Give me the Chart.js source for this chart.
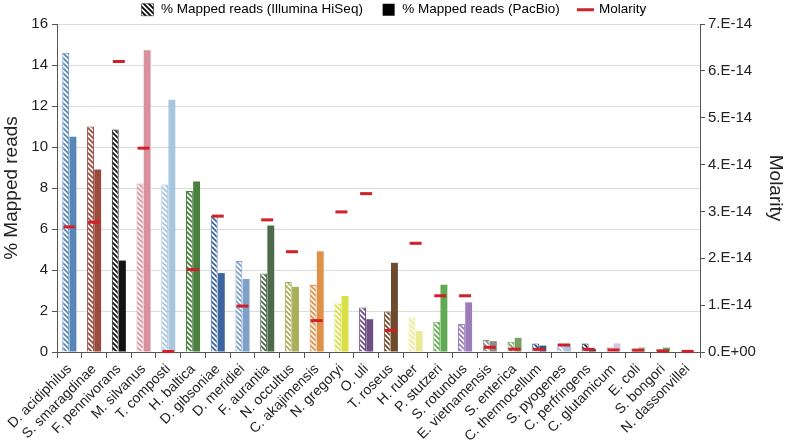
<!DOCTYPE html>
<html>
<head>
<meta charset="utf-8">
<script src="https://cdn.jsdelivr.net/npm/chart.js@4.4.1/dist/chart.umd.min.js"></script>
<style>
  html, body { margin: 0; padding: 0; background: #fff; }
  #wrap { width: 787px; height: 440px; }
</style>
</head>
<body>
<div id="wrap"><canvas id="readsChart" width="787" height="440"></canvas></div>
<script>
// species (x categories)
const species = ['D. acidiphilus', 'S. smaragdinae', 'F. pennivorans', 'M. silvanus', 'T. composti',
    'H. baltica', 'D. gibsoniae', 'D. meridiei', 'F. aurantia', 'N. occultus', 'C. akajimensis',
    'N. gregoryi', 'O. uli', 'T. roseus', 'H. ruber', 'P. stutzeri', 'S. rotundus', 'E. vietnamensis',
    'S. enterica', 'C. thermocellum', 'S. pyogenes', 'C. perfringens', 'C. glutamicum', 'E. coli',
    'S. bongori', 'N. dassonvillei'];

// % mapped reads, Illumina HiSeq (hatched bars)
const illumina = [14.6, 11.0, 10.85, 8.22, 8.17, 7.85, 6.64, 4.44, 3.83, 3.41, 3.27, 2.36, 2.17,
    1.97, 1.68, 1.47, 1.36, 0.58, 0.5, 0.42, 0.39, 0.42, 0.26, 0.15, 0.13, 0.05];

// % mapped reads, PacBio (solid bars)
const pacbio = [10.5, 8.9, 4.46, 14.72, 12.3, 8.32, 3.85, 3.56, 6.17, 3.18, 4.91, 2.73, 1.6,
    4.35, 1.02, 3.28, 2.42, 0.53, 0.69, 0.31, 0.39, 0.15, 0.42, 0.23, 0.21, 0.04];

// molarity (right axis)
const molarity = [2.67e-14, 2.77e-14, 6.2e-14, 4.35e-14, 0.01e-14, 1.76e-14, 2.9e-14, 0.98e-14,
    2.82e-14, 2.14e-14, 0.67e-14, 2.99e-14, 3.38e-14, 0.46e-14, 2.32e-14, 1.2e-14, 1.2e-14,
    0.1e-14, 0.06e-14, 0.057e-14, 0.15e-14, 0.057e-14, 0.044e-14, 0.04e-14, 0.022e-14, 0.013e-14];

// right axis tick labels
const molarityTicks = ['0.E+00', '1.E-14', '2.E-14', '3.E-14', '4.E-14', '5.E-14', '6.E-14', '7.E-14'];

// one colour per species
const speciesColors = ['#5787b8', '#9c4a3e', '#141414', '#d9919f', '#a8c6de', '#4b7f3f', '#3c65a0',
    '#7fa0c8', '#4d6b4b', '#a8b058', '#de9149', '#d9df44', '#6f4f86', '#6f4a2c', '#e9ea92',
    '#60ab52', '#9c7db9', '#8d8d87', '#77a160', '#2c5589', '#abc1dc', '#1e2c46', '#d4c5e0',
    '#a0d49b', '#60a15b', '#d6b0bd'];

function hatch(color) {
    const c = document.createElement('canvas');
    c.width = 5; c.height = 5;
    const g = c.getContext('2d');
    g.fillStyle = '#fff';
    g.fillRect(0, 0, 5, 5);
    g.strokeStyle = color;
    g.lineWidth = 1.8;
    g.beginPath();
    g.moveTo(-1, -1); g.lineTo(6, 6);
    g.moveTo(-1, 4); g.lineTo(1, 6);
    g.moveTo(4, -1); g.lineTo(6, 1);
    g.stroke();
    return g.createPattern(c, 'repeat');
}

// keep the legend a thin strip above the plot
const legendStrip = {
    id: 'legendStrip',
    beforeLayout(chart) {
        const lg = chart.legend;
        if (lg && !lg._strip) {
            const fit = lg.fit;
            lg.fit = function () { fit.call(this); this.height = 24; };
            lg._strip = true;
        }
    },
    afterLayout(chart) {
        if (chart.legend) chart.legend.top = -16;
    }
};

Chart.defaults.font.family = "'Liberation Sans', Arial, sans-serif";
Chart.defaults.color = '#222';

const ctx = document.getElementById('readsChart').getContext('2d');
new Chart(ctx, {
    type: 'bar',
    data: {
        labels: species,
        datasets: [{
            label: '% Mapped reads (Illumina HiSeq)',
            data: illumina,
            backgroundColor: speciesColors.map(hatch),
            borderColor: speciesColors,
            borderWidth: 1,
            yAxisID: 'y',
            order: 1,
            categoryPercentage: 0.58,
            barPercentage: 0.96
        }, {
            label: '% Mapped reads (PacBio)',
            data: pacbio,
            backgroundColor: speciesColors,
            borderWidth: 0,
            yAxisID: 'y',
            order: 1,
            categoryPercentage: 0.58,
            barPercentage: 0.96
        }, {
            type: 'line',
            label: 'Molarity',
            data: molarity,
            showLine: false,
            pointStyle: 'line',
            pointRadius: 6,
            pointHoverRadius: 6,
            pointBorderWidth: 3,
            pointBorderColor: '#d0202a',
            borderColor: '#d0202a',
            yAxisID: 'y1',
            order: 0,
            clip: false
        }]
    },
    plugins: [legendStrip],
    options: {
        responsive: false,
        animation: false,
        layout: { padding: 0 },
        plugins: {
            tooltip: { enabled: false },
            legend: {
                position: 'top',
                labels: {
                    usePointStyle: true,
                    boxHeight: 12,
                    padding: 19,
                    font: { size: 13.5 },
                    color: '#222',
                    generateLabels: () => [
                        { text: '% Mapped reads (Illumina HiSeq)', fillStyle: hatch('#000'), strokeStyle: '#000', lineWidth: 0.5, pointStyle: 'rect', datasetIndex: 0 },
                        { text: '% Mapped reads (PacBio)', fillStyle: '#000', strokeStyle: '#000', lineWidth: 0, pointStyle: 'rect', datasetIndex: 1 },
                        { text: 'Molarity', fillStyle: '#d0202a', strokeStyle: '#d0202a', lineWidth: 3, pointStyle: 'line', datasetIndex: 2 }
                    ]
                }
            }
        },
        scales: {
            x: {
                afterFit: s => { s.height = 88; },
                grid: { drawOnChartArea: false, color: '#555', tickLength: 6 },
                border: { color: '#555' },
                ticks: { font: { size: 14 }, color: '#222', minRotation: 45, maxRotation: 45, autoSkip: false, padding: 3 }
            },
            y: {
                position: 'left',
                min: 0, max: 16,
                afterFit: s => { s.width = 57; },
                grid: { color: '#dcdcdc', tickColor: '#555', tickLength: 5 },
                border: { color: '#555' },
                ticks: { stepSize: 2, font: { size: 15 }, color: '#222', padding: 4 },
                title: { display: true, text: '% Mapped reads', font: { size: 19 }, color: '#222', padding: 0 }
            },
            y1: {
                position: 'right',
                min: 0, max: 7e-14,
                afterFit: s => { s.width = 87; },
                grid: { drawOnChartArea: false, color: '#555', tickLength: 5 },
                border: { color: '#555' },
                ticks: {
                    stepSize: 1e-14,
                    font: { size: 15 },
                    color: '#222',
                    padding: 3,
                    callback: v => molarityTicks[Math.round(v / 1e-14)]
                },
                title: { display: true, text: 'Molarity', font: { size: 19 }, color: '#222', padding: 0 }
            }
        }
    }
});
</script>
</body>
</html>
